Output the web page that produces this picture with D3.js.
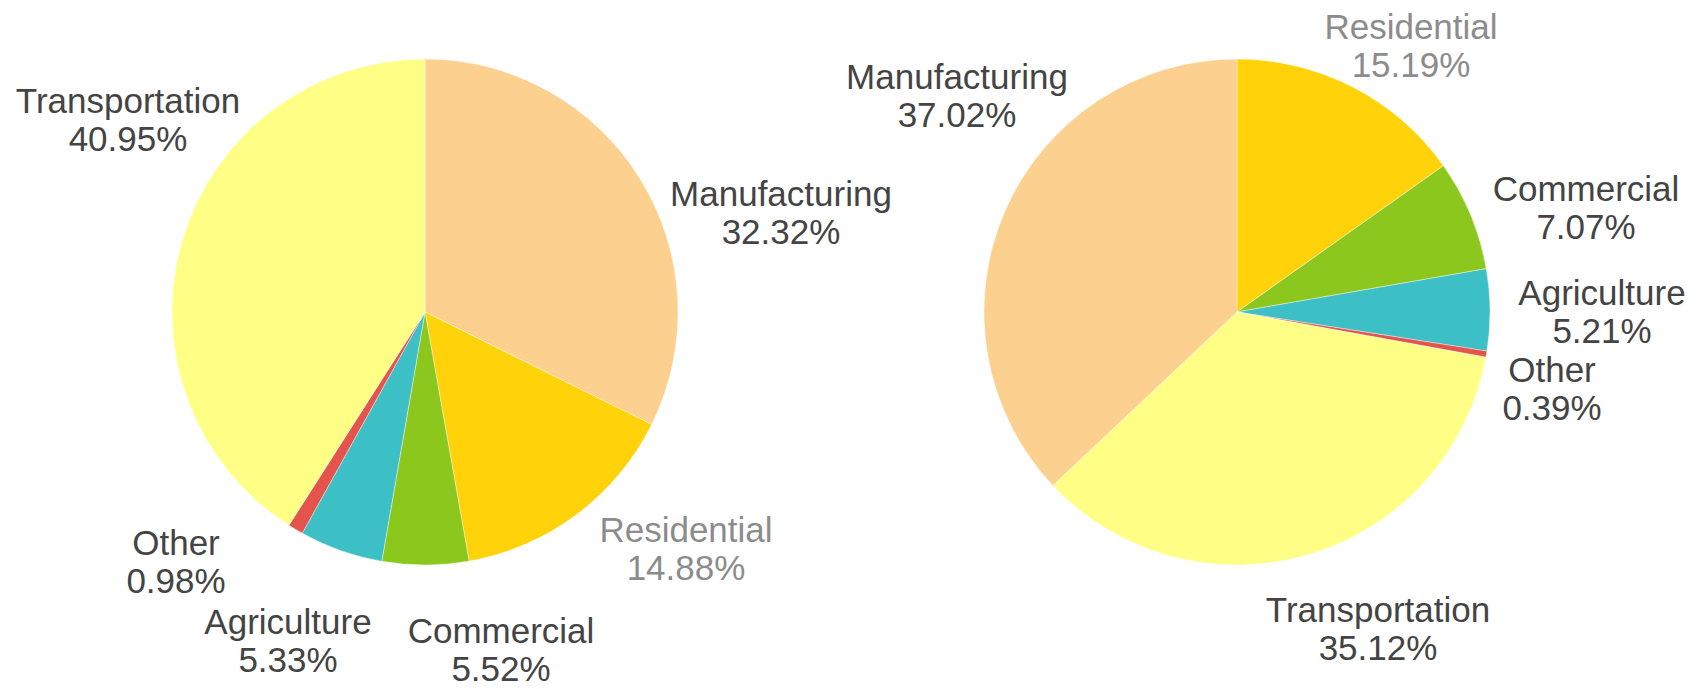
<!DOCTYPE html>
<html>
<head>
<meta charset="utf-8">
<script src="https://cdn.jsdelivr.net/npm/d3@7"></script>
<style>
  html, body { margin: 0; padding: 0; background: #ffffff; }
  svg { display: block; }
  text { font-family: "Liberation Sans", Arial, sans-serif; }
</style>
</head>
<body>
<svg id="chart" width="1705" height="689"></svg>
<script>
// ---- data ----
const leftCategories  = ["Manufacturing", "Residential", "Commercial", "Agriculture", "Other", "Transportation"];
const leftValues      = [32.32, 14.88, 5.52, 5.33, 0.98, 40.95];
const rightCategories = ["Residential", "Commercial", "Agriculture", "Other", "Transportation", "Manufacturing"];
const rightValues     = [15.19, 7.07, 5.21, 0.39, 35.12, 37.02];

// ---- styling / layout ----
const colors = {
  Manufacturing:  "#fcd08e",
  Residential:    "#ffd20a",
  Commercial:     "#8cc71d",
  Agriculture:    "#3dbfc6",
  Other:          "#e4544c",
  Transportation: "#ffff85"
};
const labelColors = { Residential: "#8c8c8c" };
// label anchor offsets from the pie centre (px): [dx, dy of first baseline]
const leftLabelOffsets = {
  Manufacturing:  [356, -106],
  Residential:    [261, 230],
  Commercial:     [76, 331],
  Agriculture:    [-137, 322],
  Other:          [-249, 243],
  Transportation: [-297, -199]
};
const rightLabelOffsets = {
  Residential:    [174, -273],
  Commercial:     [349, -111],
  Agriculture:    [365, -7],
  Other:          [315, 70],
  Transportation: [141, 310],
  Manufacturing:  [-280, -223]
};
const radius = 253;
const fontSize = 35;
const lineGap = 37.5;

const svg = d3.select("#chart");

function drawPie(cx, cy, categories, values, offsets) {
  const data = categories.map((c, i) => ({ cat: c, value: values[i] }));
  const pie = d3.pie().sort(null).value(d => d.value);
  const arc = d3.arc().innerRadius(0).outerRadius(radius);
  const g = svg.append("g").attr("transform", `translate(${cx},${cy})`);
  const arcs = pie(data);
  g.selectAll("path.slice")
    .data(arcs)
    .enter().append("path")
    .attr("class", "slice")
    .attr("d", arc)
    .attr("fill", d => colors[d.data.cat])
    .attr("stroke", "#ffffff")
    .attr("stroke-width", 0.4);

  const lab = g.selectAll("text.lbl")
    .data(arcs)
    .enter().append("text")
    .attr("class", "lbl")
    .attr("text-anchor", "middle")
    .attr("font-size", fontSize)
    .attr("fill", d => labelColors[d.data.cat] || "#444444");
  lab.append("tspan")
    .attr("x", d => offsets[d.data.cat][0])
    .attr("y", d => offsets[d.data.cat][1])
    .text(d => d.data.cat);
  lab.append("tspan")
    .attr("x", d => offsets[d.data.cat][0])
    .attr("y", d => offsets[d.data.cat][1] + lineGap)
    .text(d => d3.format(".2f")(d.data.value) + "%");
}

drawPie(425, 312, leftCategories, leftValues, leftLabelOffsets);
drawPie(1237, 312, rightCategories, rightValues, rightLabelOffsets);
</script>
</body>
</html>
